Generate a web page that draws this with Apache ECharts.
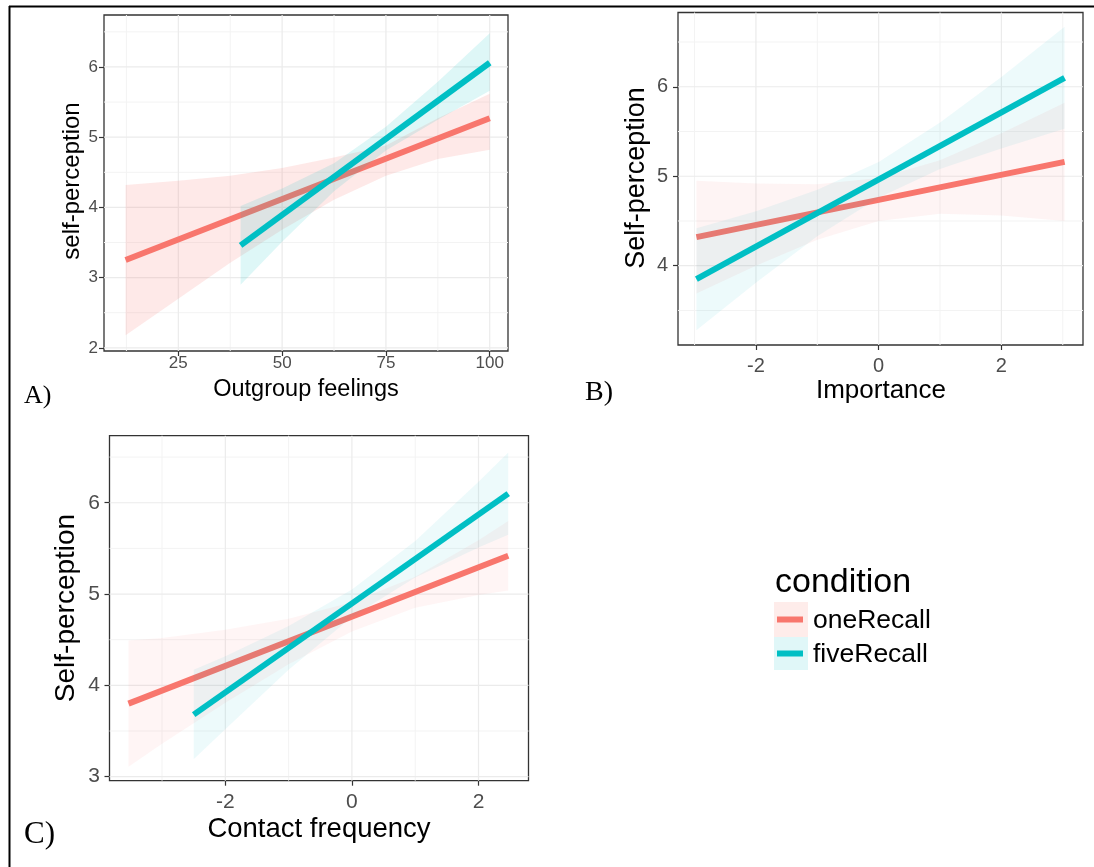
<!DOCTYPE html>
<html>
<head>
<meta charset="utf-8">
<script src="https://cdn.jsdelivr.net/npm/echarts@6/dist/echarts.min.js"></script>
<style>
  html, body { margin: 0; padding: 0; background: #fff; }
  #chart { width: 1094px; height: 867px; }
</style>
</head>
<body>
<div id="chart"></div>
<script>
// ---- Panel A: self-perception vs outgroup feelings ----
const aOneLineX = [12.3, 100];
const aOneLineY = [3.25, 5.27];
const aFiveLineX = [40, 100];
const aFiveLineY = [3.46, 6.06];
const aOneBandX = [12.3, 25, 37.5, 50, 62.5, 75, 87.5, 100];
const aOneBandLo = [2.18, 2.70, 3.21, 3.68, 4.11, 4.45, 4.69, 4.82];
const aOneBandHi = [4.32, 4.38, 4.45, 4.56, 4.71, 4.88, 5.27, 5.62];
const aFiveBandX = [40, 50, 62.5, 75, 87.5, 100];
const aFiveBandLo = [2.90, 3.51, 4.23, 4.81, 5.25, 5.66];
const aFiveBandHi = [4.02, 4.27, 4.63, 5.15, 5.79, 6.48];

// ---- Panel B: self-perception vs importance ----
const bOneLineX = [-2.97, 3.03];
const bOneLineY = [4.32, 5.16];
const bFiveLineX = [-2.97, 3.03];
const bFiveLineY = [3.85, 6.10];
const bBandX = [-2.97, -2, -1, 0, 1, 2, 3.03];
const bOneBandLo = [3.69, 4.00, 4.29, 4.50, 4.58, 4.56, 4.50];
const bOneBandHi = [4.95, 4.92, 4.91, 4.98, 5.18, 5.48, 5.82];
const bFiveBandLo = [3.28, 3.81, 4.33, 4.76, 5.08, 5.31, 5.53];
const bFiveBandHi = [4.42, 4.61, 4.85, 5.16, 5.60, 6.11, 6.67];

// ---- Panel C: self-perception vs contact frequency ----
const cOneLineX = [-3.53, 2.47];
const cOneLineY = [3.80, 5.42];
const cFiveLineX = [-2.50, 2.47];
const cFiveLineY = [3.68, 6.10];
const cOneBandX = [-3.53, -3, -2, -1, 0, 1, 2, 2.47];
const cOneBandLo = [3.11, 3.36, 3.81, 4.23, 4.59, 4.85, 4.99, 5.04];
const cOneBandHi = [4.49, 4.52, 4.61, 4.73, 4.91, 5.19, 5.59, 5.80];
const cFiveBandX = [-2.5, -2, -1, 0, 1, 2, 2.47];
const cFiveBandLo = [3.19, 3.52, 4.17, 4.75, 5.18, 5.51, 5.65];
const cFiveBandHi = [4.17, 4.32, 4.65, 5.05, 5.58, 6.23, 6.55];

// ---- axis ranges and ticks ----
const aXRange = [7.1, 104.4];
const aYRange = [1.955, 6.74];
const bXRange = [-3.27, 3.33];
const bYRange = [3.114, 6.83];
const cXRange = [-3.83, 2.79];
const cYRange = [2.956, 6.734];
const aXTicks = [25, 50, 75, 100];
const aXMinor = [12.5, 37.5, 62.5, 87.5];
const aYTicks = [2, 3, 4, 5, 6];
const aYMinor = [2.5, 3.5, 4.5, 5.5, 6.5];
const bXTicks = [-2, 0, 2];
const bXMinor = [-3, -1, 1, 3];
const bYTicks = [4, 5, 6];
const bYMinor = [3.5, 4.5, 5.5, 6.5];
const cXTicks = [-2, 0, 2];
const cXMinor = [-3, -1, 1];
const cYTicks = [3, 4, 5, 6];
const cYMinor = [3.5, 4.5, 5.5, 6.5];

const conditions = ['oneRecall', 'fiveRecall'];
const RED = '#F8766D';
const TEAL = '#00BFC4';
const SANS = '"Liberation Sans", Arial, sans-serif';
const SERIF = '"Liberation Serif", "Times New Roman", serif';

const chart = echarts.init(document.getElementById('chart'), null, { renderer: 'canvas' });

function pts(xs, ys) { return xs.map((x, i) => [x, ys[i]]); }

// confidence ribbon drawn as one polygon through the grid's own scales
function band(gi, xs, lo, hi, fill, z) {
  return {
    type: 'custom', xAxisIndex: gi, yAxisIndex: gi, z: z, silent: true, animation: false,
    data: [[xs[0], lo[0]]],
    renderItem: function (params, api) {
      const poly = [];
      for (let i = 0; i < xs.length; i++) poly.push(api.coord([xs[i], hi[i]]));
      for (let i = xs.length - 1; i >= 0; i--) poly.push(api.coord([xs[i], lo[i]]));
      return { type: 'polygon', shape: { points: poly }, style: { fill: fill } };
    }
  };
}

function line(gi, name, xs, ys, color, z) {
  return {
    type: 'line', name: name, xAxisIndex: gi, yAxisIndex: gi, z: z, silent: true,
    data: pts(xs, ys), showSymbol: false, symbol: 'none', animation: false,
    lineStyle: { color: color, width: 6, cap: 'butt' }
  };
}

// panel grid lines: each item is [orientation, value, isMajor]
function gridLines(gi, xr, yr, xMaj, xMin, yMaj, yMin) {
  const items = [];
  xMin.forEach(v => items.push([0, v, 0]));
  yMin.forEach(v => items.push([1, v, 0]));
  xMaj.forEach(v => items.push([0, v, 1]));
  yMaj.forEach(v => items.push([1, v, 1]));
  return {
    type: 'custom', xAxisIndex: gi, yAxisIndex: gi, z: 1, silent: true, animation: false,
    data: items.map(it => [xr[0], yr[0]]),
    renderItem: function (params, api) {
      const it = items[params.dataIndex];
      const p1 = it[0] === 0 ? api.coord([it[1], yr[0]]) : api.coord([xr[0], it[1]]);
      const p2 = it[0] === 0 ? api.coord([it[1], yr[1]]) : api.coord([xr[1], it[1]]);
      return {
        type: 'line',
        shape: { x1: p1[0], y1: p1[1], x2: p2[0], y2: p2[1] },
        style: { stroke: it[2] ? '#EBEBEB' : '#F3F3F3', lineWidth: it[2] ? 1.2 : 1 }
      };
    }
  };
}

function axis(gi, range, ticks, fs, margin) {
  return {
    type: 'value', gridIndex: gi, min: range[0], max: range[1],
    axisLine: { show: false, onZero: false },
    splitLine: { show: false },
    axisPointer: { show: false },
    axisTick: { show: true, customValues: ticks, length: 5, lineStyle: { color: '#333', width: 1.2 } },
    axisLabel: { customValues: ticks, color: '#4D4D4D', fontSize: fs, fontFamily: SANS, margin: margin }
  };
}

const gridBox = { show: true, borderColor: '#333', borderWidth: 1.3, backgroundColor: '#fff' };

function txt(x, y, text, font, align, rot) {
  const el = {
    type: 'text', x: x, y: y, silent: true,
    style: { text: text, font: font, fill: '#000', align: align || 'center', verticalAlign: 'middle' }
  };
  if (rot) el.rotation = rot;
  return el;
}

const option = {
  backgroundColor: '#fff',
  animation: false,
  grid: [
    Object.assign({ left: 104, top: 15, width: 404, height: 336 }, gridBox),
    Object.assign({ left: 678, top: 12.5, width: 405, height: 332.5 }, gridBox),
    Object.assign({ left: 109.5, top: 435.7, width: 419, height: 345 }, gridBox)
  ],
  xAxis: [
    axis(0, aXRange, aXTicks, 17, 4),
    axis(1, bXRange, bXTicks, 20, 11),
    axis(2, cXRange, cXTicks, 21, 11)
  ],
  yAxis: [
    axis(0, aYRange, aYTicks, 17, 6),
    axis(1, bYRange, bYTicks, 20, 10),
    axis(2, cYRange, cYTicks, 21, 9.5)
  ],
  series: [
    gridLines(0, aXRange, aYRange, aXTicks, aXMinor, aYTicks, aYMinor),
    gridLines(1, bXRange, bYRange, bXTicks, bXMinor, bYTicks, bYMinor),
    gridLines(2, cXRange, cYRange, cXTicks, cXMinor, cYTicks, cYMinor),

    band(0, aOneBandX, aOneBandLo, aOneBandHi, 'rgba(248,118,109,0.16)', 2),
    line(0, conditions[0], aOneLineX, aOneLineY, RED, 3),
    band(0, aFiveBandX, aFiveBandLo, aFiveBandHi, 'rgba(0,191,196,0.13)', 4),
    line(0, conditions[1], aFiveLineX, aFiveLineY, TEAL, 5),

    band(1, bBandX, bOneBandLo, bOneBandHi, 'rgba(248,118,109,0.08)', 2),
    line(1, conditions[0], bOneLineX, bOneLineY, RED, 3),
    band(1, bBandX, bFiveBandLo, bFiveBandHi, 'rgba(0,191,196,0.07)', 4),
    line(1, conditions[1], bFiveLineX, bFiveLineY, TEAL, 5),

    band(2, cOneBandX, cOneBandLo, cOneBandHi, 'rgba(248,118,109,0.07)', 2),
    line(2, conditions[0], cOneLineX, cOneLineY, RED, 3),
    band(2, cFiveBandX, cFiveBandLo, cFiveBandHi, 'rgba(0,191,196,0.07)', 4),
    line(2, conditions[1], cFiveLineX, cFiveLineY, TEAL, 5)
  ],
  graphic: [
    // page frame
    { type: 'line', shape: { x1: 9, y1: 6.5, x2: 1094, y2: 6.5 }, style: { stroke: '#000', lineWidth: 2 }, silent: true },
    { type: 'line', shape: { x1: 9.5, y1: 6, x2: 9.5, y2: 867 }, style: { stroke: '#000', lineWidth: 2 }, silent: true },

    // axis titles
    txt(306, 390, 'Outgroup feelings', '23.5px ' + SANS),
    txt(72, 181, 'self-perception', '24px ' + SANS, 'center', Math.PI / 2),
    txt(881, 391, 'Importance', '26px ' + SANS),
    txt(637, 178, 'Self-perception', '27px ' + SANS, 'center', Math.PI / 2),
    txt(319, 829, 'Contact frequency', '27.5px ' + SANS),
    txt(66, 608, 'Self-perception', '28px ' + SANS, 'center', Math.PI / 2),

    // panel letters
    txt(24, 396, 'A)', '26px ' + SERIF, 'left'),
    txt(585, 393, 'B)', '28px ' + SERIF, 'left'),
    txt(24, 835, 'C)', '31px ' + SERIF, 'left'),

    // legend
    txt(775, 583, 'condition', '34px ' + SANS, 'left'),
    { type: 'rect', shape: { x: 774, y: 602, width: 34, height: 35 }, style: { fill: 'rgba(248,118,109,0.14)' }, silent: true },
    { type: 'rect', shape: { x: 774, y: 637, width: 34, height: 33 }, style: { fill: 'rgba(0,191,196,0.12)' }, silent: true },
    { type: 'line', shape: { x1: 777, y1: 619.5, x2: 803, y2: 619.5 }, style: { stroke: RED, lineWidth: 6 }, silent: true },
    { type: 'line', shape: { x1: 777, y1: 653.5, x2: 803, y2: 653.5 }, style: { stroke: TEAL, lineWidth: 6 }, silent: true },
    txt(813, 621, conditions[0], '26.5px ' + SANS, 'left'),
    txt(813, 655, conditions[1], '26.5px ' + SANS, 'left')
  ]
};

chart.setOption(option);
</script>
</body>
</html>
